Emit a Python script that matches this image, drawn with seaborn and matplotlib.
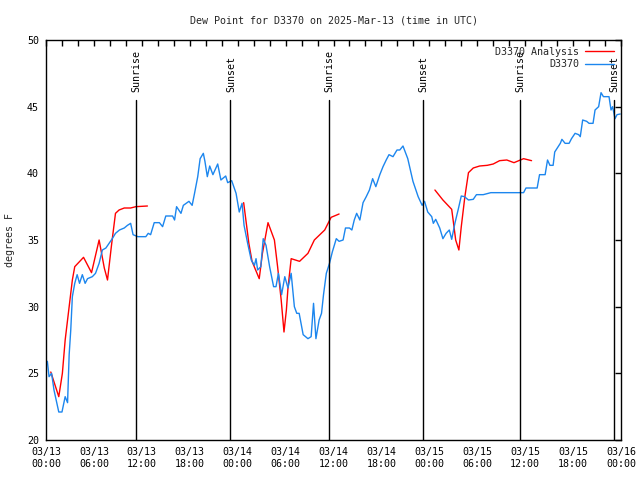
import numpy as np
import pandas as pd
import matplotlib
matplotlib.use("Agg")
import matplotlib.pyplot as plt
import seaborn as sns
from matplotlib.lines import Line2D

# Hours since 2025-03-13 00:00 UTC
obs_hours = [0.17, 0.38, 0.7, 1.0, 1.6, 2.0, 2.4, 2.7, 2.9, 3.1, 3.3, 3.6, 3.9, 4.2, 4.55, 4.9, 5.2, 5.8,
             6.2, 6.65, 7.06, 7.5, 7.9, 8.3, 8.7, 9.2, 9.8, 10.2, 10.6, 10.9, 11.5, 12.5, 12.8, 13.1, 13.55,
             14.2, 14.6, 15.0, 15.85, 16.1, 16.35, 16.9, 17.2, 17.9, 18.3, 18.6, 19.0, 19.3, 19.7, 19.9, 20.2,
             20.5, 20.9, 21.5, 21.9, 22.5, 22.75, 23.25, 23.8, 24.2, 24.55, 24.8, 25.25, 25.7, 26.1, 26.3,
             26.5, 26.9, 27.2, 27.55, 28.0, 28.5, 28.8, 29.1, 29.5, 29.9, 30.3, 30.7, 31.1, 31.4, 31.7, 32.2,
             32.8, 33.2, 33.5, 33.8, 34.2, 34.5, 34.75, 35.1, 35.5, 35.85, 36.35, 36.7, 37.2, 37.5, 38.0, 38.3,
             38.6, 38.9, 39.3, 39.7, 40.1, 40.5, 40.9, 41.3, 41.8, 42.2, 42.6, 42.95, 43.45, 43.95, 44.3, 44.7,
             45.3, 45.95, 46.6, 47.1, 47.4, 47.8, 48.3, 48.5, 48.8, 49.3, 49.7, 50.1, 50.5, 50.8, 51.2, 51.6,
             52.0, 52.4, 52.9, 53.5, 53.9, 54.75, 55.7, 56.8, 58.5, 59.8, 60.1, 60.8, 61.5, 61.8, 62.5, 62.8,
             63.1, 63.5, 63.7, 64.4, 64.6, 65.0, 65.5, 65.8, 66.25, 66.7, 66.9, 67.2, 67.7, 68.0, 68.5, 68.75,
             69.2, 69.5, 69.8, 70.5, 70.75, 70.95, 71.25, 71.5, 71.9]
obs_dewpt = [25.9, 24.75, 25.0, 23.75, 22.1, 22.1, 23.25, 22.8, 26.4, 28.25, 30.75, 31.75, 32.4, 31.75, 32.4,
             31.75, 32.1, 32.25, 32.5, 33.25, 34.25, 34.4, 34.75, 35.1, 35.5, 35.75, 35.9, 36.1, 36.25, 35.4,
             35.25, 35.25, 35.5, 35.4, 36.3, 36.3, 36.0, 36.8, 36.8, 36.5, 37.5, 37.0, 37.6, 37.9, 37.6, 38.5,
             39.75, 41.1, 41.5, 40.9, 39.75, 40.55, 39.9, 40.7, 39.5, 39.8, 39.3, 39.45, 38.5, 37.1, 37.75,
             36.1, 34.75, 33.5, 33.1, 33.6, 32.75, 33.0, 35.1, 34.6, 33.0, 31.5, 31.5, 32.5, 30.9, 32.25, 31.4,
             32.5, 30.0, 29.5, 29.5, 27.9, 27.6, 27.75, 30.25, 27.6, 29.0, 29.5, 30.9, 32.5, 33.25, 34.1, 35.1,
             34.9, 35.0, 35.9, 35.9, 35.75, 36.5, 37.0, 36.5, 37.8, 38.25, 38.75, 39.6, 39.0, 39.9, 40.5, 41.0,
             41.4, 41.25, 41.75, 41.75, 42.05, 41.1, 39.4, 38.25, 37.6, 37.9, 37.1, 36.75, 36.25, 36.55, 35.9,
             35.1, 35.5, 35.75, 35.05, 36.25, 37.25, 38.3, 38.25, 38.0, 38.05, 38.4, 38.4, 38.55, 38.55, 38.55,
             38.55, 38.9, 38.9, 38.9, 39.9, 39.9, 41.0, 40.6, 40.6, 41.6, 42.25, 42.55, 42.25, 42.25, 42.6, 43.0,
             42.9, 42.75, 44.0, 43.9, 43.75, 43.75, 44.75, 45.0, 46.05, 45.75, 45.75, 44.75, 45.0, 44.1, 44.4,
             44.45]

ana1_hours = [0.6, 1.6, 2.05, 2.4, 2.9, 3.3, 3.6, 4.7, 5.7, 6.65, 7.3, 7.7, 8.2, 8.7, 9.15, 9.8, 10.6, 11.25, 12.7]
ana1_dewpt = [25.1, 23.25, 25.0, 27.5, 30.0, 32.0, 33.0, 33.7, 32.55, 35.0, 32.9, 32.0, 34.6, 37.0, 37.25, 37.4,
              37.4, 37.5, 37.55]
ana2_hours = [24.75, 25.05, 25.4, 25.8, 26.7, 27.1, 27.8, 28.6, 29.0, 29.45, 29.8, 30.1, 30.3, 30.7, 31.75,
              32.8, 33.6, 34.9, 35.7, 36.7]
ana2_dewpt = [37.8, 36.4, 34.75, 33.4, 32.1, 34.0, 36.3, 35.0, 33.0, 30.5, 28.1, 29.75, 31.4, 33.6, 33.4, 34.0,
              35.0, 35.75, 36.7, 36.95]
ana3_hours = [48.7, 49.7, 50.8, 51.0, 51.3, 51.7, 52.0, 52.45, 52.9, 53.5, 54.3, 55.25, 56.0, 56.8, 57.7, 58.6,
              59.8, 60.8]
ana3_dewpt = [38.75, 38.0, 37.3, 36.4, 35.0, 34.25, 36.0, 38.25, 40.05, 40.4, 40.55, 40.6, 40.7, 40.95, 41.0,
              40.8, 41.1, 40.95]

sun_hours = [11.3, 23.1, 35.4, 47.2, 59.3, 71.1]
sun_labels = ["Sunrise", "Sunset", "Sunrise", "Sunset", "Sunrise", "Sunset"]

tick_hours = list(range(0, 73, 6))
tick_labels = ["03/13\n00:00", "03/13\n06:00", "03/13\n12:00", "03/13\n18:00",
               "03/14\n00:00", "03/14\n06:00", "03/14\n12:00", "03/14\n18:00",
               "03/15\n00:00", "03/15\n06:00", "03/15\n12:00", "03/15\n18:00", "03/16\n00:00"]

title = "Dew Point for D3370 on 2025-Mar-13 (time in UTC)"
ylabel = "degrees F"
series_names = ["D3370 Analysis", "D3370"]

sns.set_theme(style="white")
plt.rcParams['font.family'] = ['DejaVu Sans Mono']
FS = 7.2
plt.rcParams['font.size'] = FS

obs_df = pd.DataFrame({"h": obs_hours, "v": obs_dewpt})
ana_df = pd.concat([
    pd.DataFrame({"h": ana1_hours, "v": ana1_dewpt, "seg": 1}),
    pd.DataFrame({"h": ana2_hours, "v": ana2_dewpt, "seg": 2}),
    pd.DataFrame({"h": ana3_hours, "v": ana3_dewpt, "seg": 3}),
])

fig = plt.figure(figsize=(6.4, 4.8), dpi=100)
ax = fig.add_axes([46/640, 40/480, 575/640, 400/480])

red = "#ff0000"
blue = "#1c86ee"

sns.lineplot(data=ana_df, x="h", y="v", units="seg", estimator=None, color=red, lw=1.0, ax=ax,
             sort=False, legend=False)
sns.lineplot(data=obs_df, x="h", y="v", color=blue, lw=1.0, ax=ax, legend=False, sort=False)

for h, lab in zip(sun_hours, sun_labels):
    ax.plot([h, h], [20, 45.5], color="black", lw=1.0)
    ax.text(h + 0.05, 46.1, lab, rotation=90, ha="center", va="bottom", fontsize=FS, color="black")

ax.set_xlim(0, 72)
ax.set_ylim(20, 50)
ax.set_xticks(tick_hours)
ax.set_xticklabels(tick_labels, linespacing=1.25)
ax.set_xticks(list(range(0, 73, 2)), minor=True)
ax.set_yticks(list(range(20, 51, 5)))
ax.tick_params(axis="both", which="both", direction="in", top=True, right=True, length=4, width=1,
               labelsize=FS, colors="black", pad=5)
ax.tick_params(axis="y", pad=5)
for s in ax.spines.values():
    s.set_color("black")
    s.set_linewidth(1.0)
ax.set_xlabel("")
ax.set_ylabel(ylabel, fontsize=FS, labelpad=9)
ax.set_title(title, fontsize=FS, pad=12)

handles = [Line2D([0], [0], color=red, lw=1.0), Line2D([0], [0], color=blue, lw=1.0)]
leg = ax.legend(handles, series_names, loc="upper right", frameon=False,
                markerfirst=False, fontsize=FS, handlelength=2.9, borderaxespad=0.7, borderpad=0.0,
                labelspacing=0.25, handletextpad=0.6)
leg.set_zorder(5)

fig.savefig("out.png", dpi=100)
